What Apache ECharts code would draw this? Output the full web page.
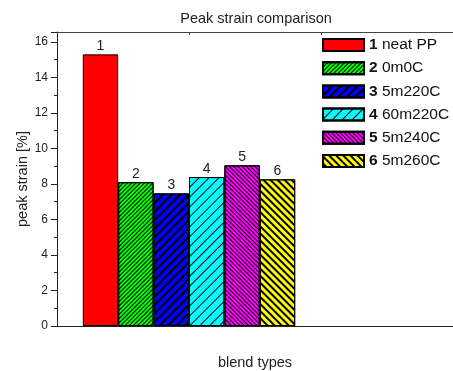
<!DOCTYPE html>
<html>
<head>
<meta charset="utf-8">
<script src="https://cdn.jsdelivr.net/npm/echarts@6/dist/echarts.min.js"></script>
<style>html,body{margin:0;padding:0;background:#fff;}#c{width:453px;height:371px;}</style>
</head>
<body>
<div id="c"></div>
<script>
const categories = ['', 'blends', '', ''];
const seriesNums = ['1', '2', '3', '4', '5', '6'];
const seriesNames = ['neat PP', '0m0C', '5m220C', '60m220C', '5m240C', '5m260C'];
const values = [15.3, 8.1, 7.47, 8.39, 9.05, 8.26];
const colors = ['#ff0000', '#00ff00', '#0000ff', '#00ffff', '#ff00ff', '#ffff00'];
// hatch spec: [line thickness, gap, direction] (direction 1 = '/', -1 = '\', 0 = none)
const hatches = [null, [1, 2, 1], [1.1, 3.2, 1], [1, 6, 1], [1, 2, -1], [1.5, 2.8, -1]];

const FONT = 'Liberation Sans, Arial, sans-serif';
const chart = echarts.init(document.getElementById('c'), null, {renderer: 'canvas'});

const series = values.map((v, i) => {
  const h = hatches[i];
  const itemStyle = {color: colors[i], borderColor: '#000', borderWidth: 1};
  if (h) {
    itemStyle.decal = {
      symbol: 'rect', symbolSize: 1, color: '#000',
      dashArrayX: [1, 0], dashArrayY: [h[0], h[1]],
      rotation: -h[2] * Math.PI / 4
    };
  }
  const data = categories.map((c, k) => (k === 1 ? v : '-'));
  return {
    type: 'bar', name: seriesNums[i] + '|' + seriesNames[i],
    data: data, barWidth: 35.4, barGap: '0%',
    itemStyle: itemStyle,
    label: {show: true, position: 'top', distance: 1, formatter: seriesNums[i],
      fontFamily: FONT, fontSize: 14, color: '#222'}
  };
});

chart.setOption({
  animation: false,
  backgroundColor: '#fff',
  title: {text: 'Peak strain comparison', left: 251, textAlign: 'center', top: 6,
    textStyle: {fontFamily: FONT, fontSize: 14.5, fontWeight: 'normal', color: '#222'}},
  legend: {
    orient: 'vertical', left: 322, top: 37, padding: 0, itemWidth: 41, itemHeight: 12, itemGap: 7.2,
    icon: 'rect', selectedMode: false,
    formatter: n => { const p = n.split('|'); return '{b|' + p[0] + '} ' + p[1]; },
    textStyle: {fontFamily: FONT, fontSize: 15.5, color: '#111', padding: [0, 0, 0, 0],
      rich: {b: {fontFamily: FONT, fontSize: 15.5, fontWeight: 'bold', color: '#111'}}}
  },
  grid: {left: 57, top: 32, right: 0, bottom: 45, containLabel: false, outerBoundsMode: 'none'},
  xAxis: [{
    type: 'category', data: categories, boundaryGap: false, position: 'bottom',
    name: 'blend types', nameLocation: 'middle', nameGap: 29, nameMoveOverlap: false,
    nameTextStyle: {fontFamily: FONT, fontSize: 14.5, color: '#222'},
    axisLine: {lineStyle: {color: '#222', width: 1}},
    axisTick: {show: false}, axisLabel: {show: false}, splitLine: {show: false}
  }, {
    type: 'category', data: categories, boundaryGap: false, position: 'top',
    axisLine: {lineStyle: {color: '#444', width: 1}},
    axisTick: {show: true, inside: true, length: 3, lineStyle: {color: '#444'}},
    axisLabel: {show: false}, splitLine: {show: false}
  }],
  yAxis: {
    type: 'value', min: 0, max: 16.56, interval: 2,
    name: 'peak strain [%]', nameLocation: 'middle', nameGap: 27, nameMoveOverlap: false,
    nameTextStyle: {fontFamily: FONT, fontSize: 14.5, color: '#222'},
    axisLine: {show: true, lineStyle: {color: '#222', width: 1}},
    axisTick: {show: true, length: 6, lineStyle: {color: '#222'}},
    minorTick: {show: true, splitNumber: 2, length: 3, lineStyle: {color: '#222'}},
    axisLabel: {fontFamily: FONT, fontSize: 12, color: '#222', margin: 9, showMaxLabel: false},
    splitLine: {show: false}
  },
  series: series
});
</script>
</body>
</html>
